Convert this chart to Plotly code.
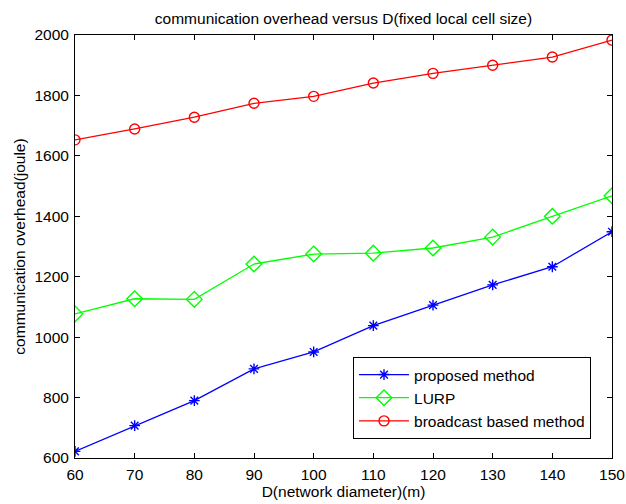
import plotly.graph_objects as go

# Network diameter D (m)
diameter = [60, 70, 80, 90, 100, 110, 120, 130, 140, 150]

# Communication overhead (joule) per method
proposed = [622, 707, 790, 895, 951, 1038, 1106, 1173, 1233, 1349]
lurp = [1077, 1127, 1125, 1242, 1275, 1278, 1295, 1331, 1400, 1468]
broadcast = [1653, 1689, 1728, 1774, 1797, 1841, 1873, 1900, 1927, 1983]

x_ticks = [60, 70, 80, 90, 100, 110, 120, 130, 140, 150]
y_ticks = [600, 800, 1000, 1200, 1400, 1600, 1800, 2000]

FONT = "Liberation Sans, Arial, sans-serif"
FS = 15.5

fig = go.Figure()
fig.add_trace(go.Scatter(
    x=diameter, y=proposed, name="proposed method", mode="lines+markers",
    line=dict(color="#0000ff", width=1.3),
    marker=dict(symbol="asterisk-open", size=9, color="#0000ff",
                line=dict(color="#0000ff", width=1.4)),
))
fig.add_trace(go.Scatter(
    x=diameter, y=lurp, name="LURP", mode="lines+markers",
    line=dict(color="#00ff00", width=1.3),
    marker=dict(symbol="diamond-open", size=12, color="#00ff00",
                line=dict(color="#00ff00", width=1.4)),
))
fig.add_trace(go.Scatter(
    x=diameter, y=broadcast, name="broadcast based method", mode="lines+markers",
    line=dict(color="#ff0000", width=1.3),
    marker=dict(symbol="circle-open", size=10, color="#ff0000",
                line=dict(color="#ff0000", width=1.4)),
))

axis_common = dict(
    showgrid=False, zeroline=False, showline=True, linecolor="black",
    linewidth=1, mirror="ticks", ticks="inside", ticklen=5,
    tickcolor="black", automargin=False,
    tickfont=dict(family=FONT, size=FS, color="black"),
)

fig.update_layout(
    template="none",
    width=626, height=504,
    margin=dict(l=75, r=14, t=35, b=46, autoexpand=False),
    paper_bgcolor="white", plot_bgcolor="white",
    font=dict(family=FONT, color="black"),
    title=dict(text="communication overhead versus D(fixed local cell size)",
               x=0.5, xanchor="center", xref="paper", y=0.964, yanchor="middle",
               font=dict(family=FONT, size=FS, color="black")),
    xaxis=dict(range=[60, 150], tickvals=x_ticks, ticklabelstandoff=2,
               title=dict(text="D(network diameter)(m)", standoff=3,
                          font=dict(family=FONT, size=FS, color="black")),
               **axis_common),
    yaxis=dict(range=[600, 2000], tickvals=y_ticks, ticklabelstandoff=2,
               title=dict(text="communication overhead(joule)", standoff=4,
                          font=dict(family=FONT, size=FS, color="black")),
               **axis_common),
    legend=dict(x=0.5177, y=0.2388, xanchor="left", yanchor="top",
                bgcolor="white", bordercolor="black", borderwidth=1,
                font=dict(family=FONT, size=FS, color="black"),
                tracegroupgap=0, itemwidth=50),
    showlegend=True,
)

fig.write_html("out.html")
